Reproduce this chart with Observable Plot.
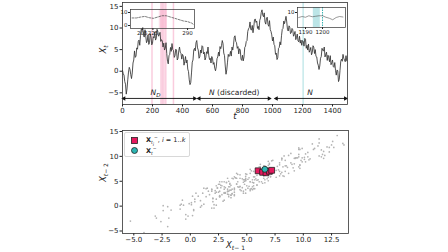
<!DOCTYPE html>
<html><head><meta charset="utf-8">
<script src="https://cdn.jsdelivr.net/npm/d3@7"></script>
<script src="https://cdn.jsdelivr.net/npm/@observablehq/plot@0.6"></script>
<style>
html,body{margin:0;padding:0;background:#fff;}
#wrap{position:relative;width:448px;height:252px;overflow:hidden;font-family:"DejaVu Sans",sans-serif;}
#wrap svg{position:absolute;}
#legend{position:absolute;left:124px;top:132px;width:64px;height:23px;border:1px solid #d8d8d8;border-radius:2px;background:rgba(255,255,255,0.9);font-size:6.5px;color:#222;}
#legend .row{position:absolute;left:0;height:10px;line-height:10px;white-space:nowrap;}
#legend svg{position:static;vertical-align:middle;}
#legend sub,#legend sup{font-size:4.5px;line-height:0;}
</style>
</head><body>
<div id="wrap"></div>
<script>
// ---------- data ----------
// time series X_t sampled every 5 steps (t = 0 .. 1495)
const seriesStep = 5;
const seriesValues = [
  0.2,-0.6,-0.9,-2.4,-3.0,-5.3,-4.1,-2.0,-0.2,0.9,0.4,-0.8,-1.7,-0.4,1.9,2.6,4.7,3.2,3.5,5.4,
  5.1,6.9,7.2,6.0,8.3,9.7,9.4,10.1,8.3,7.9,9.6,8.1,6.6,7.0,8.4,6.2,6.6,8.7,7.9,6.1,
  6.5,8.0,7.7,9.1,7.2,7.6,9.7,9.3,8.1,8.4,9.0,6.9,7.3,7.0,5.6,6.5,4.9,5.3,6.6,4.1,
  2.3,1.7,3.6,3.9,5.5,4.6,6.4,5.0,4.8,3.2,3.6,5.1,4.9,2.6,3.0,4.7,5.6,4.4,4.1,2.8,
  3.9,3.5,1.4,2.3,3.4,1.9,2.6,0.5,-0.1,-2.0,-3.1,-2.6,-0.4,2.1,2.6,4.9,5.3,4.7,6.6,7.1,
  5.4,4.9,3.0,3.3,4.9,4.2,5.9,5.7,4.0,4.4,2.6,3.1,4.5,4.1,5.6,3.7,2.7,3.0,1.9,3.4,
  3.0,1.6,2.0,0.7,0.1,1.0,2.9,3.3,4.4,3.5,5.7,5.2,5.9,7.1,6.4,4.2,3.6,1.2,-0.7,0.3,
  2.1,3.9,3.4,3.7,4.6,3.5,5.6,4.9,6.1,7.9,8.2,6.9,6.6,5.3,5.7,4.0,5.2,4.9,2.8,2.5,
  3.7,2.4,3.3,5.5,5.8,6.9,7.1,9.2,9.8,10.1,11.4,9.7,9.5,10.6,8.9,10.2,11.9,12.1,11.3,11.6,
  9.9,10.4,9.6,11.8,12.3,13.6,14.2,13.0,12.6,13.5,11.4,10.9,12.3,12.5,10.8,10.4,11.7,9.6,9.2,8.4,
  7.0,7.9,6.2,5.9,3.9,4.2,2.7,3.1,5.3,5.5,6.8,6.1,8.2,9.7,9.9,11.6,11.0,11.8,12.7,11.4,
  9.6,9.3,10.5,10.2,8.7,8.9,9.9,9.6,8.1,8.5,9.2,7.3,7.8,8.6,7.0,6.8,8.1,6.5,7.2,6.0,
  7.1,6.9,5.8,7.6,7.4,5.3,6.0,4.9,6.3,4.4,4.8,5.5,3.8,4.3,5.9,5.6,4.1,5.0,3.4,3.3,
  1.9,1.4,0.4,1.2,3.0,3.4,5.3,4.8,4.7,5.6,3.3,3.9,4.4,2.5,3.7,3.1,2.2,3.6,1.5,2.0,
  2.6,1.1,0.9,2.0,0.2,-0.9,0.3,0.1,-2.4,-1.9,0.2,2.3,2.8,2.3,3.9,3.0,2.6,2.2,3.6,2.4
];
// neighbour windows (pink) and current time (teal)
const neighbourStarts = [195, 255, 265, 275, 287, 338];
const neighbourWindow = 10;
const currentTime = 1204;
// segments with arrows
const segStart = [0, 501, 1016];
const segEnd = [490, 987, 1496];
const segLabel = ["N_D", "N (discarded)", "N"];
const segLabelT = [220, 745, 1250];
// inset (left): zoom on neighbour region
const insetLT = [186,194,202,210,218,226,234,242,250,258,266,274,282,290,298,302];
const insetLV = [5.8,5.8,6.5,7.0,6.0,5.5,6.5,7.5,7.5,6.5,5.5,4.5,3.5,3.0,1.8,0.5];
const insetLTicks = [205, 225, 290];
const insetLBand = [[237, 252]];
// inset (right): zoom on current time
const insetRT = [1186,1188,1190,1192,1194,1196,1198,1200,1202,1204,1206,1208,1210,1212];
const insetRV = [8.0,8.4,8.1,8.7,8.3,8.5,8.7,8.7,8.1,7.7,7.1,8.0,8.4,8.2];
const insetRBand = [[1194.6, 1198.7]];
const insetRMark = 1200;
// embedding points
const neighX = [6.0, 6.4, 6.7, 7.0, 7.2];
const neighY = [7.1, 6.8, 6.7, 7.0, 7.2];
const currX = [6.6];
const currY = [7.4];

// ---------- derived tables ----------
const series = seriesValues.map((v, i) => ({t: i * seriesStep, v}));
const lagPairs = seriesValues.slice(1).map((v, i) => ({x1: v, x2: seriesValues[i]}));
const spans = neighbourStarts.map(s => ({a: s, b: s + neighbourWindow}));
const segs = segStart.map((s, i) => ({a: s, b: segEnd[i], label: segLabel[i], lt: segLabelT[i]}));
const arrowY = -6.3, labelY = -5.0;
const insetL = insetLT.map((t, i) => ({t, v: insetLV[i]}));
const insetR = insetRT.map((t, i) => ({t, v: insetRV[i]}));
const neigh = neighX.map((x, i) => ({x, y: neighY[i]}));
const curr = currX.map((x, i) => ({x, y: currY[i]}));

const FONT = "DejaVu Sans";
const INK = "#222";
const PINK = "#f5a3c3";
const TEAL_L = "#9fdadd";

function rich(svg, map) {
  d3.select(svg).selectAll("text").each(function() {
    const k = this.textContent;
    if (map[k] !== undefined) this.innerHTML = map[k];
  });
}
const fmt1 = d => (d < 0 ? "\u2212" : "") + Math.abs(d).toFixed(1);
const fmt0 = d => (d < 0 ? "\u2212" : "") + Math.abs(d);

const wrap = document.getElementById("wrap");

// ---------- top panel ----------
const topPlot = Plot.plot({
  width: 448, height: 125,
  marginLeft: 122, marginRight: 101, marginTop: 2, marginBottom: 21,
  style: {fontFamily: FONT, fontSize: "7px", color: INK, background: "transparent", overflow: "visible"},
  x: {domain: [0, 1500], ticks: [0,200,400,600,800,1000,1200,1400], tickSize: 2.5, tickPadding: 1.5, label: null, tickFormat: d => String(d)},
  y: {domain: [-7.7, 15.9], ticks: [-5,0,5,10,15], tickSize: 2.5, tickPadding: 1.5, label: null, tickFormat: fmt0},
  marks: [
    Plot.rect(spans, {x1: "a", x2: "b", fill: PINK, fillOpacity: 0.55}),
    Plot.ruleX([currentTime], {stroke: TEAL_L, strokeWidth: 0.9}),
    Plot.line(series, {x: "t", y: "v", stroke: "#333", strokeWidth: 0.85}),
    Plot.link(segs, {x1: "a", x2: "b", y1: () => arrowY, y2: () => arrowY, stroke: "#111", strokeWidth: 0.9}),
    Plot.dot(segs, {x: "a", y: () => arrowY, symbol: "triangle2", rotate: -90, r: 2.2, fill: "#111", dx: 1.5}),
    Plot.dot(segs, {x: "b", y: () => arrowY, symbol: "triangle2", rotate: 90, r: 2.2, fill: "#111", dx: -1.5}),
    Plot.text(segs, {x: "lt", y: () => labelY, text: "label", fontSize: 7.5, fill: INK}),
    Plot.frame({stroke: "#333", strokeWidth: 0.8}),
    Plot.text(["X_t"], {frameAnchor: "left", dx: -19, rotate: -90, fontSize: 8.5, fill: INK}),
    Plot.text(["t"], {frameAnchor: "bottom", dy: 14, fontSize: 8.5, fill: INK})
  ]
});
rich(topPlot, {
  "X_t": '<tspan font-style="italic">X</tspan><tspan font-style="italic" font-size="6" dy="2">t</tspan>',
  "t": '<tspan font-style="italic">t</tspan>',
  "N_D": '<tspan font-style="italic">N</tspan><tspan font-style="italic" font-size="5.5" dy="1.8">D</tspan>',
  "N (discarded)": '<tspan font-style="italic">N</tspan> (discarded)',
  "N": '<tspan font-style="italic">N</tspan>'
});
topPlot.style.left = "0px"; topPlot.style.top = "0px";
wrap.appendChild(topPlot);

// ---------- insets ----------
const insetLeft = Plot.plot({
  width: 76, height: 28,
  marginLeft: 10, marginRight: 2, marginTop: 1, marginBottom: 8,
  style: {fontFamily: FONT, fontSize: "5.5px", color: INK, background: "transparent", overflow: "visible"},
  x: {domain: [183, 303], ticks: insetLTicks, tickSize: 2, tickPadding: 1, label: null},
  y: {domain: [-2.3, 12.3], ticks: [0, 10], tickSize: 2, tickPadding: 1, label: null},
  marks: [
    Plot.rect(insetLBand, {x1: d => d[0], x2: d => d[1], fill: PINK, fillOpacity: 0.35}),
    Plot.line(insetL, {x: "t", y: "v", stroke: "#444", strokeWidth: 0.7, strokeDasharray: "2,1.4"}),
    Plot.frame({stroke: "#333", strokeWidth: 0.7})
  ]
});
insetLeft.style.left = "120px"; insetLeft.style.top = "8px";
wrap.appendChild(insetLeft);

const insetRight = Plot.plot({
  width: 60, height: 29,
  marginLeft: 10, marginRight: 2, marginTop: 1, marginBottom: 8,
  style: {fontFamily: FONT, fontSize: "5.5px", color: INK, background: "transparent", overflow: "visible"},
  x: {domain: [1185.3, 1213.5], ticks: [1190, 1200], tickSize: 2, tickPadding: 1, label: null, tickFormat: d => String(d)},
  y: {domain: [4, 12], ticks: [10], tickSize: 2, tickPadding: 1, label: null},
  marks: [
    Plot.rect(insetRBand, {x1: d => d[0], x2: d => d[1], fill: TEAL_L, fillOpacity: 0.7}),
    Plot.ruleX([insetRMark], {stroke: "#1fa8a8", strokeWidth: 0.9, strokeDasharray: "1.5,1"}),
    Plot.line(insetR, {x: "t", y: "v", stroke: "#555", strokeWidth: 0.6}),
    Plot.frame({stroke: "#333", strokeWidth: 0.7})
  ]
});
insetRight.style.left = "287px"; insetRight.style.top = "6px";
wrap.appendChild(insetRight);

// ---------- bottom panel ----------
const botPlot = Plot.plot({
  width: 448, height: 127,
  marginLeft: 122, marginRight: 100, marginTop: 5, marginBottom: 19,
  style: {fontFamily: FONT, fontSize: "7px", color: INK, background: "transparent", overflow: "visible"},
  x: {domain: [-6, 14], ticks: [-5,-2.5,0,2.5,5,7.5,10,12.5], tickSize: 2.5, tickPadding: 1.5, label: null, tickFormat: fmt1},
  y: {domain: [-5.5, 15.2], ticks: [-5,0,5,10,15], tickSize: 2.5, tickPadding: 1.5, label: null, tickFormat: fmt0},
  marks: [
    Plot.dot(lagPairs, {x: "x1", y: "x2", r: 0.85, fill: "#b3b3b3", stroke: null, clip: true}),
    Plot.dot(neigh, {x: "x", y: "y", symbol: "square", r: 3.3, fill: "#e5195e", stroke: "#222", strokeWidth: 0.8}),
    Plot.dot(curr, {x: "x", y: "y", symbol: "circle", r: 3, fill: "#2cb5b2", stroke: "#222", strokeWidth: 0.8}),
    Plot.frame({stroke: "#333", strokeWidth: 0.8}),
    Plot.text(["X_{t-2}"], {frameAnchor: "left", dx: -19, rotate: -90, fontSize: 8.5, fill: INK}),
    Plot.text(["X_{t-1}"], {frameAnchor: "bottom", dy: 14.5, fontSize: 8.5, fill: INK})
  ]
});
rich(botPlot, {
  "X_{t-2}": '<tspan font-style="italic">X</tspan><tspan font-size="6" dy="2"><tspan font-style="italic">t</tspan>\u2212 2</tspan>',
  "X_{t-1}": '<tspan font-style="italic">X</tspan><tspan font-size="6" dy="2"><tspan font-style="italic">t</tspan>\u2212 1</tspan>'
});
botPlot.style.left = "0px"; botPlot.style.top = "125px";
wrap.appendChild(botPlot);

// ---------- legend ----------
const legend = document.createElement("div");
legend.id = "legend";
legend.innerHTML =
  '<div class="row" style="top:2px;left:6px;"><svg width="7" height="7"><rect x="0.5" y="0.5" width="6" height="6" fill="#e5195e" stroke="#222" stroke-width="0.8"/></svg>' +
  '<span style="margin-left:8px;"><b>X</b><sub><i>t<sub>i</sub></i></sub><sup>\u2212</sup>, <i>i</i> = 1..<i>k</i></span></div>' +
  '<div class="row" style="top:12.5px;left:6px;"><svg width="7" height="7"><circle cx="3.5" cy="3.5" r="3" fill="#2cb5b2" stroke="#222" stroke-width="0.8"/></svg>' +
  '<span style="margin-left:8px;"><b>X</b><sub><i>t</i></sub><sup>\u2212</sup></span></div>';
wrap.appendChild(legend);
</script>
</body></html>
